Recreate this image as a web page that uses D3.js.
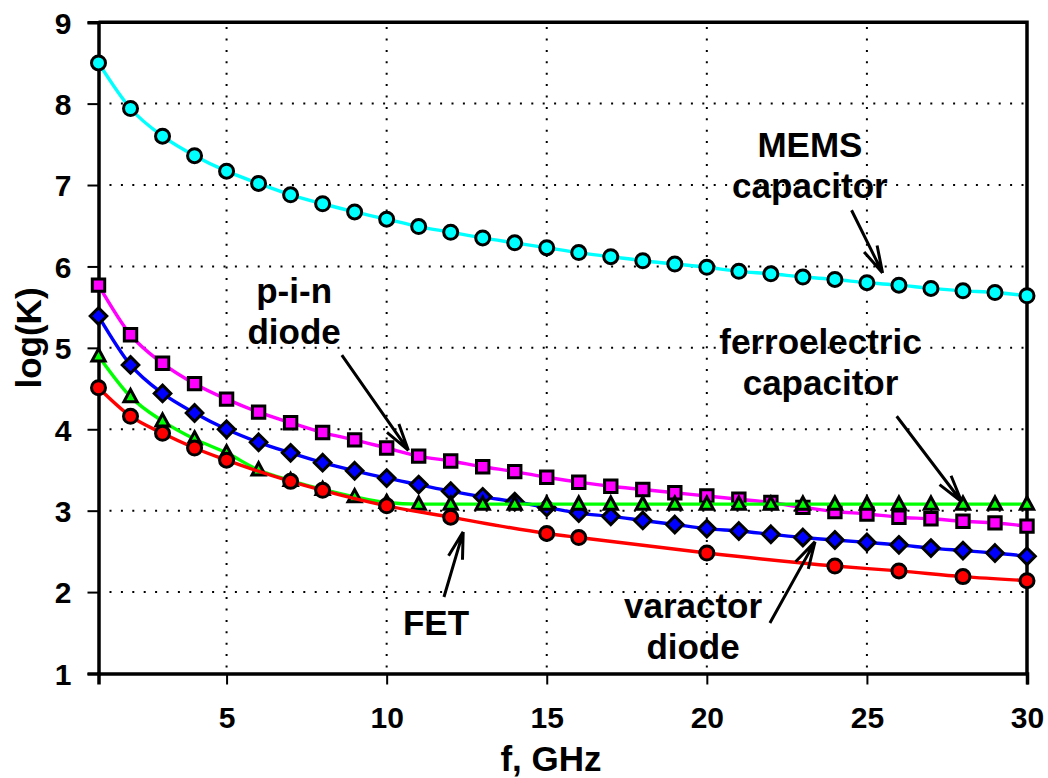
<!DOCTYPE html>
<html>
<head>
<meta charset="utf-8">
<script src="https://cdn.jsdelivr.net/npm/d3@7"></script>
<style>
  body { margin: 0; background: #fff; }
  text { font-family: "Liberation Sans", Arial, sans-serif; font-weight: bold; fill: #000; }
</style>
</head>
<body>
<div id="chart"></div>
<script>
// frequency points (GHz)
const freqAll = d3.range(1, 31);
const fetFreq = [1, 2, 3, 4, 5, 7, 8, 10, 12, 15, 16, 20, 24, 26, 28, 30];

// log(K)
const memsVals = [8.50, 7.94, 7.60, 7.36, 7.17, 7.02, 6.88, 6.77, 6.67, 6.58,
                  6.49, 6.42, 6.35, 6.29, 6.23, 6.17, 6.12, 6.07, 6.03, 5.99,
                  5.94, 5.91, 5.87, 5.84, 5.80, 5.77, 5.73, 5.70, 5.68, 5.64];
const pinVals = [5.77, 5.16, 4.81, 4.56, 4.37, 4.21, 4.08, 3.96, 3.87, 3.77,
                 3.67, 3.61, 3.54, 3.48, 3.41, 3.35, 3.30, 3.26, 3.22, 3.18,
                 3.14, 3.10, 3.04, 2.99, 2.96, 2.92, 2.90, 2.87, 2.85, 2.81];
const varactorVals = [5.39, 4.79, 4.44, 4.20, 4.00, 3.84, 3.71, 3.59, 3.49, 3.40,
                      3.32, 3.24, 3.17, 3.11, 3.04, 2.97, 2.93, 2.88, 2.83, 2.78,
                      2.75, 2.71, 2.67, 2.64, 2.61, 2.58, 2.54, 2.51, 2.48, 2.44];
const ferroVals = [4.90, 4.40, 4.10, 3.88, 3.71, 3.50, 3.37, 3.26, 3.17, 3.10,
                   3.08, 3.08, 3.08, 3.08, 3.08, 3.08, 3.08, 3.08, 3.08, 3.08,
                   3.08, 3.08, 3.08, 3.08, 3.08, 3.08, 3.08, 3.08, 3.08, 3.08];
const fetVals = [4.51, 4.16, 3.95, 3.77, 3.62, 3.36, 3.25, 3.06, 2.92, 2.72,
                 2.67, 2.48, 2.32, 2.26, 2.19, 2.14];

const xTicks = [5, 10, 15, 20, 25, 30];
const yTicks = [1, 2, 3, 4, 5, 6, 7, 8, 9];

// annotations: text lines, label anchor (f, logK), arrow start and tip (f, logK)
const notes = [
  { lines: ["MEMS", "capacitor"], at: [23.22, 7.34], from: [24.52, 6.69], to: [25.49, 5.92] },
  { lines: ["p-i-n", "diode"], at: [7.11, 5.55], from: [8.60, 4.91], to: [10.68, 3.74] },
  { lines: ["ferroelectric", "capacitor"], at: [23.55, 4.92], from: [25.93, 4.16], to: [27.96, 3.11] },
  { lines: ["FET"], at: [11.54, 1.47], from: [11.79, 1.94], to: [12.39, 2.74] },
  { lines: ["varactor", "diode"], at: [19.57, 1.68], from: [21.97, 1.62], to: [23.38, 2.62] }
];

const width = 1048, height = 778;
const svg = d3.select("#chart").append("svg")
  .attr("width", width).attr("height", height);
svg.append("rect").attr("width", width).attr("height", height).attr("fill", "#fff");

const x = d3.scaleLinear().domain([1, 30]).range([98.5, 1027]);
const y = d3.scaleLinear().domain([1, 9]).range([673.5, 22.2]);

// dotted grid
const grid = svg.append("g").attr("stroke", "#000").attr("stroke-width", 2)
  .attr("stroke-dasharray", "2,9.4");
grid.selectAll("line.v").data(xTicks.filter(d => d < 30)).join("line")
  .attr("x1", d => x(d)).attr("x2", d => x(d))
  .attr("y1", y(1) - 6).attr("y2", y(9));
grid.selectAll("line.h").data(yTicks.filter(d => d > 1 && d < 9)).join("line")
  .attr("x1", x(1) + 11).attr("x2", x(30))
  .attr("y1", d => y(d)).attr("y2", d => y(d));

// axes
const xAxis = svg.append("g").attr("transform", `translate(0,${y(1)})`)
  .call(d3.axisBottom(x).tickValues(xTicks).tickSize(11).tickPadding(33));
const yAxis = svg.append("g").attr("transform", `translate(${x(1)},0)`)
  .call(d3.axisLeft(y).tickValues(yTicks).tickSize(11).tickPadding(16));
[xAxis, yAxis].forEach(a => {
  a.select(".domain").attr("stroke-width", 3.5);
  a.selectAll(".tick line").attr("stroke-width", 2);
  a.selectAll(".tick text").style("font-size", "30px")
    .style("font-family", "Liberation Sans, Arial, sans-serif").style("font-weight", "bold");
});
xAxis.selectAll(".tick text").attr("dy", "0.36em");
yAxis.selectAll(".tick text").attr("dy", "0.36em");

// frame top + right
svg.append("path")
  .attr("d", `M${x(1)},${y(9)}H${x(30)}V${y(1)}`)
  .attr("fill", "none").attr("stroke", "#000").attr("stroke-width", 3.5);

// axis titles
svg.append("text").attr("x", 551).attr("y", 771)
  .attr("text-anchor", "middle").style("font-size", "35px").text("f, GHz");
svg.append("text").attr("transform", "translate(41,338) rotate(-90)")
  .attr("text-anchor", "middle").style("font-size", "35px").text("log(K)");

// marker shapes
const shapes = {
  circle: "M0,-7A7,7 0 1,1 0,7A7,7 0 1,1 0,-7Z",
  square: "M-6.2,-6.2H6.2V6.2H-6.2Z",
  diamond: "M0,-8.3L8.3,0L0,8.3L-8.3,0Z",
  triangle: "M0,-7.2L6.6,5H-6.6Z"
};

const series = [
  { f: freqAll, v: memsVals, color: "#00ffff", shape: "circle" },
  { f: freqAll, v: pinVals, color: "#ff00ff", shape: "square" },
  { f: freqAll, v: varactorVals, color: "#0000ff", shape: "diamond" },
  { f: freqAll, v: ferroVals, color: "#00ff00", shape: "triangle" },
  { f: fetFreq, v: fetVals, color: "#ff0000", shape: "circle" }
];

const line = d3.line().x(d => x(d[0])).y(d => y(d[1])).curve(d3.curveMonotoneX);

series.forEach(s => {
  const pts = s.f.map((f, i) => [f, s.v[i]]);
  const g = svg.append("g");
  g.append("path").datum(pts).attr("d", line)
    .attr("fill", "none").attr("stroke", s.color).attr("stroke-width", 3.4);
  g.selectAll("path.m").data(pts).join("path").attr("class", "m")
    .attr("transform", d => `translate(${x(d[0])},${y(d[1])})`)
    .attr("d", shapes[s.shape])
    .attr("fill", s.color).attr("stroke", "#000").attr("stroke-width", 3);
});

// annotations
const ann = svg.append("g");
notes.forEach(n => {
  const t = ann.append("text").attr("text-anchor", "middle").style("font-size", "35px");
  n.lines.forEach((l, i) => {
    t.append("tspan").attr("x", x(n.at[0])).attr("y", y(n.at[1]) + i * 41).text(l);
  });
  const x0 = x(n.from[0]), y0 = y(n.from[1]), x1 = x(n.to[0]), y1 = y(n.to[1]);
  const ang = Math.atan2(y0 - y1, x0 - x1);
  const L = 28, da = 15 * Math.PI / 180;
  const p = d3.path();
  p.moveTo(x0, y0); p.lineTo(x1, y1);
  [ang - da, ang + da].forEach(a => {
    p.moveTo(x1, y1); p.lineTo(x1 + L * Math.cos(a), y1 + L * Math.sin(a));
  });
  ann.append("path").attr("d", p.toString()).attr("fill", "none")
    .attr("stroke", "#000").attr("stroke-width", 3);
});
</script>
</body>
</html>
